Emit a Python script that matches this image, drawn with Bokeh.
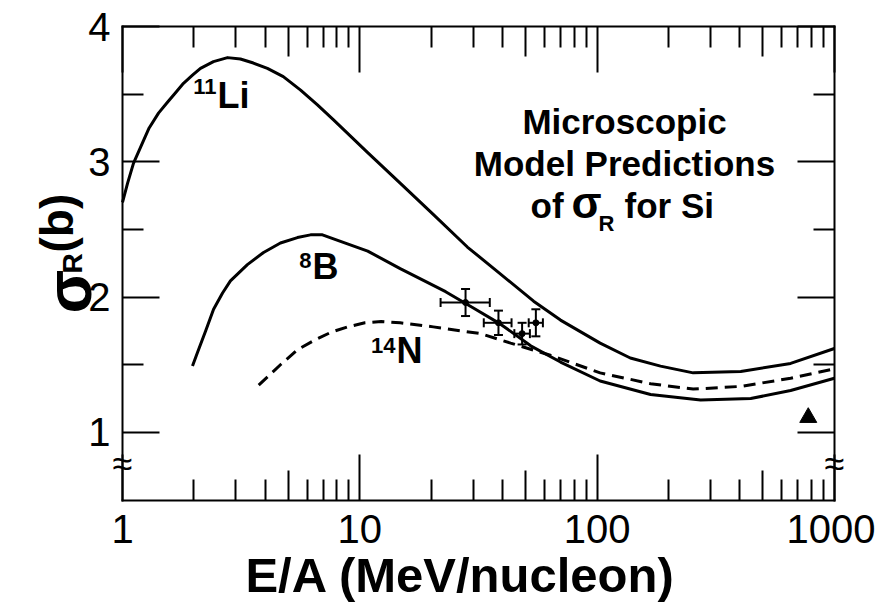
import math
from bokeh.plotting import figure
from bokeh.models import (FixedTicker, LogAxis, LinearAxis, Label, Whisker, TeeHead,
                          ColumnDataSource, BasicTickFormatter, Range1d)
from bokeh.embed import file_html
from bokeh.resources import INLINE

# ---------------- data ----------------
li11_E = [1.0, 1.05, 1.113, 1.214, 1.295, 1.418, 1.547, 1.673, 1.807, 1.972, 2.131, 2.417,
          2.771, 3.14, 3.56, 4.08, 4.76, 5.63, 6.63, 7.75, 10.77, 14.83, 20.44, 28.4,
          39.2, 54.0, 70.1, 103, 138, 185, 254, 403, 654, 1000]
li11_sigma = [2.70, 2.84, 2.99, 3.14, 3.25, 3.36, 3.44, 3.51, 3.58, 3.64, 3.69, 3.74,
              3.77, 3.76, 3.73, 3.69, 3.63, 3.53, 3.42, 3.31, 3.07, 2.84, 2.61, 2.37,
              2.17, 1.97, 1.83, 1.66, 1.55, 1.49, 1.44, 1.45, 1.51, 1.62]

b8_E = [1.972, 2.07, 2.24, 2.42, 2.64, 2.85, 3.36, 3.93, 4.63, 5.46, 6.2, 6.96, 7.75,
        10.8, 14.8, 23.0, 30.1, 39.2, 52.5, 70.1, 103, 168, 273, 444, 654, 1000]
b8_sigma = [1.49, 1.59, 1.75, 1.91, 2.03, 2.12, 2.24, 2.33, 2.40, 2.44, 2.46, 2.46, 2.43,
            2.34, 2.21, 2.04, 1.92, 1.80, 1.64, 1.52, 1.38, 1.28, 1.24, 1.25, 1.31, 1.40]

n14_E = [3.75, 4.20, 4.63, 5.45, 6.42, 7.56, 8.88, 10.5, 12.3, 14.8, 20.4, 32.3, 43.2,
         63.5, 103, 168, 254, 403, 654, 1000]
n14_sigma = [1.35, 1.43, 1.50, 1.61, 1.68, 1.74, 1.78, 1.81, 1.82, 1.81, 1.78, 1.73, 1.66,
             1.57, 1.44, 1.36, 1.32, 1.34, 1.40, 1.47]

exp_E = [27.9, 38.4, 48.3, 55.2]
exp_sigma = [1.96, 1.81, 1.73, 1.81]
exp_E_lo = [21.9, 33.3, 44.8, 51.5]
exp_E_hi = [35.3, 43.6, 52.1, 59.1]
exp_sigma_err = [0.10, 0.09, 0.08, 0.10]

tri_E = [776]
tri_sigma = [1.11]

x_major = [1, 10, 100, 1000]
x_mid = [5, 50, 500]
x_minor = [2, 3, 4, 6, 7, 8, 9, 20, 30, 40, 60, 70, 80, 90,
           200, 300, 400, 600, 700, 800, 900]
y_major = [1, 2, 3, 4]
y_minor = [1.5, 2.5, 3.5]
x_range = (1, 1000)
y_range = (0.5, 4)
y_break = 0.77

# ---------------- layout ----------------
W, H = 875, 604
FONT = "Liberation Sans"
X1_PX, PX_PER_DECADE = 122, 237.3      # canvas x of E=1, pixels per decade
Y4_PX, PX_PER_UNIT = 26, 135.3         # canvas y of sigma=4, pixels per barn

# the frame spans the whole canvas; the visible box is drawn by bounded axes
xr = Range1d(10 ** ((0 - X1_PX) / PX_PER_DECADE), 10 ** ((W - X1_PX) / PX_PER_DECADE))
yr = Range1d(4 - (H - Y4_PX) / PX_PER_UNIT, 4 + Y4_PX / PX_PER_UNIT)

p = figure(width=W, height=H, x_axis_type="log", x_range=xr, y_range=yr,
           output_backend="svg", toolbar_location=None,
           x_axis_location=None, y_axis_location=None,
           min_border_left=0, min_border_right=0, min_border_top=0, min_border_bottom=0)
p.grid.visible = False
p.outline_line_color = None
p.background_fill_color = "white"
p.border_fill_color = "white"


def style_axis(ax, major_in, minor_in, labels):
    ax.axis_line_color = "black"
    ax.axis_line_width = 2
    ax.axis_line_cap = "square"
    ax.major_tick_in = major_in
    ax.major_tick_out = 0
    ax.minor_tick_in = minor_in
    ax.minor_tick_out = 0
    ax.major_tick_line_width = 2
    ax.minor_tick_line_width = 2
    ax.major_tick_line_color = "black"
    ax.minor_tick_line_color = "black"
    ax.major_label_text_font = FONT
    ax.major_label_text_font_size = "40px"
    ax.major_label_text_color = "black" if labels else None


xt = FixedTicker(ticks=x_major, minor_ticks=x_minor)
yt = FixedTicker(ticks=y_major, minor_ticks=y_minor)

bottom = LogAxis(ticker=xt, formatter=BasicTickFormatter(), fixed_location=y_range[0],
                 bounds=x_range)
style_axis(bottom, 46, 21, True)
bottom.major_label_standoff = 15
p.add_layout(bottom, "below")

top = LogAxis(ticker=xt, formatter=BasicTickFormatter(), fixed_location=y_range[1],
              bounds=x_range)
style_axis(top, 46, 21, False)
p.add_layout(top, "above")

left = LinearAxis(ticker=yt, fixed_location=x_range[0], bounds=y_range)
style_axis(left, 37, 21, True)
left.major_label_standoff = 12
p.add_layout(left, "left")

right = LinearAxis(ticker=yt, fixed_location=x_range[1], bounds=y_range)
style_axis(right, 37, 21, False)
p.add_layout(right, "right")

# mid-length ticks at 5, 50, 500 (bottom and top)
for loc, side in ((y_range[0], "below"), (y_range[1], "above")):
    mid = LogAxis(ticker=FixedTicker(ticks=x_mid, minor_ticks=[]), fixed_location=loc,
                  bounds=x_range, formatter=BasicTickFormatter())
    style_axis(mid, 30, 0, False)
    mid.axis_line_color = None
    p.add_layout(mid, side)

# ---------------- curves ----------------
p.line(li11_E, li11_sigma, line_width=3, color="black", line_join="round")
p.line(b8_E, b8_sigma, line_width=3, color="black", line_join="round")
p.line(n14_E, n14_sigma, line_width=3, color="black", line_dash="12 7")

# ---------------- experimental points ----------------
src = ColumnDataSource(dict(
    E=exp_E, s=exp_sigma, E_lo=exp_E_lo, E_hi=exp_E_hi,
    s_lo=[s - e for s, e in zip(exp_sigma, exp_sigma_err)],
    s_hi=[s + e for s, e in zip(exp_sigma, exp_sigma_err)]))


def tee():
    return TeeHead(size=9, line_width=2, line_color="black")


p.add_layout(Whisker(base="E", upper="s_hi", lower="s_lo", dimension="height", source=src,
                     line_width=2, line_color="black", upper_head=tee(), lower_head=tee()))
p.add_layout(Whisker(base="s", upper="E_hi", lower="E_lo", dimension="width", source=src,
                     line_width=2, line_color="black", upper_head=tee(), lower_head=tee()))
p.scatter("E", "s", source=src, size=6, color="black")

p.scatter(tri_E, tri_sigma, marker="triangle", size=17, color="black")


# ---------------- text ----------------
BASE_SHIFT = 0.36   # rendered alphabetic baseline sits this many em below the anchor


def lab(text, cx, cy, size, bold=True, align="left", angle=0.0):
    """cx, cy: canvas position of the text's baseline start (horizontal text)."""
    shift = BASE_SHIFT * size if angle == 0.0 else 0.0
    p.add_layout(Label(x=cx, y=H - (cy - shift), x_units="screen", y_units="screen",
                       text=text, text_font=FONT, text_font_size=f"{size}px",
                       text_font_style="bold" if bold else "normal", text_color="black",
                       text_align=align, text_baseline="alphabetic", angle=angle))


# curve labels
lab("11", 216, 94, 22, align="right")
lab("Li", 217, 108, 36)
lab("8", 311, 268, 22, align="right")
lab("B", 312, 279, 36)
lab("14", 395, 353, 22, align="right")
lab("N", 396, 363, 36)

# text block
lab("Microscopic", 624, 134, 35, align="center")
lab("Model Predictions", 624, 176, 35, align="center")
lab("of", 530, 218, 35)
lab("\u03c3", 571, 218, 44)
lab("R", 598, 231, 22)
lab("for Si", 624, 218, 35)

# y axis title (rotated)
rot = math.pi / 2
lab("\u03c3", 68, 313, 64, angle=rot)
lab("R", 72, 273, 28, angle=rot)
lab("(b)", 56, 252, 46, angle=rot)

# x axis title
lab("E/A (MeV/nucleon)", 460, 592, 49, align="center")

# axis break marks
for xb in x_range:
    p.add_layout(Label(x=xb, y=y_break, text="\u2248", text_font=FONT,
                       text_font_size="36px", text_color="black",
                       text_align="center", text_baseline="middle"))

open("out.html", "w").write(file_html(p, INLINE))
